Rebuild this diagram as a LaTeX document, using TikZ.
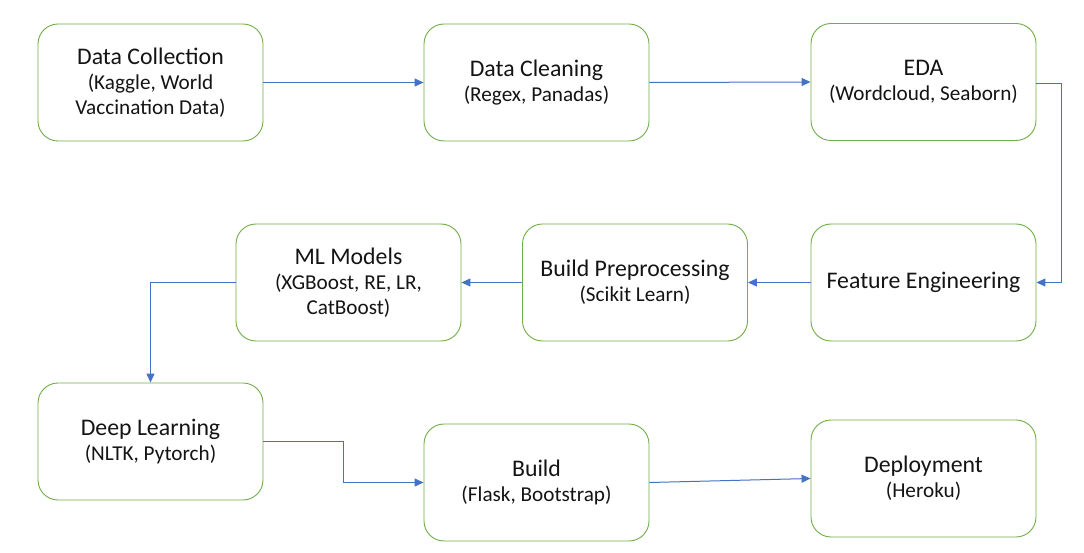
\documentclass[tikz,border=0pt]{standalone}
\usepackage{fontspec}
\setmainfont{Carlito}
\usetikzlibrary{arrows.meta,calc}
\definecolor{boxgreen}{RGB}{112,173,71}
\definecolor{arrblue}{RGB}{68,114,196}
\definecolor{txt}{RGB}{20,20,20}
\tikzset{
  stepbox/.style={draw=boxgreen, line width=0.9pt, rounded corners=20pt, fill=white,
    minimum width=225pt, minimum height=117pt, align=center, text=txt, inner sep=0pt,
    font=\fontsize{21.2}{25}\selectfont},
  conn/.style={draw=arrblue, line width=1pt, -{Triangle[length=9pt,width=8pt]}},
}
\newcommand{\ttl}[1]{{\fontsize{23.8}{25}\selectfont #1}}
\begin{document}
\begin{tikzpicture}[x=1pt,y=-1pt]
\useasboundingbox (0,0) rectangle (1084,553);
\node[stepbox] (dc) at (150.5,82.5) {\ttl{Data Collection}\\(Kaggle, World\\Vaccination Data)};
\node[stepbox] (dcl) at (536.5,82.5) {\ttl{Data Cleaning}\\(Regex, Panadas)};
\node[stepbox] (eda) at (923.5,82) {\ttl{EDA}\\(Wordcloud, Seaborn)};
\node[stepbox] (ml) at (348.5,282.5) {\ttl{ML Models}\\(XGBoost, RE, LR,\\CatBoost)};
\node[stepbox] (bp) at (635,282.5) {\ttl{Build Preprocessing}\\(Scikit Learn)};
\node[stepbox] (fe) at (923.5,282.5) {\ttl{Feature Engineering}};
\node[stepbox] (dl) at (150.5,441.5) {\ttl{Deep Learning}\\(NLTK, Pytorch)};
\node[stepbox] (bu) at (536.5,482.5) {\ttl{Build}\\(Flask, Bootstrap)};
\node[stepbox] (de) at (923.5,478.5) {\ttl{Deployment}\\(Heroku)};
\draw[conn] (dc.east) -- (dcl.west);
\draw[conn] (dcl.east) -- (eda.west);
\draw[conn] ([yshift=-2pt]eda.east) -- ++(25,0) |- (fe.east);
\draw[conn] (fe.west) -- (bp.east);
\draw[conn] (bp.west) -- (ml.east);
\draw[conn] (ml.west) -| (dl.north);
\draw[conn] (dl.east) -- ++(80,0) |- (bu.west);
\draw[conn] (bu.east) -- (de.west);
\end{tikzpicture}
\end{document}
